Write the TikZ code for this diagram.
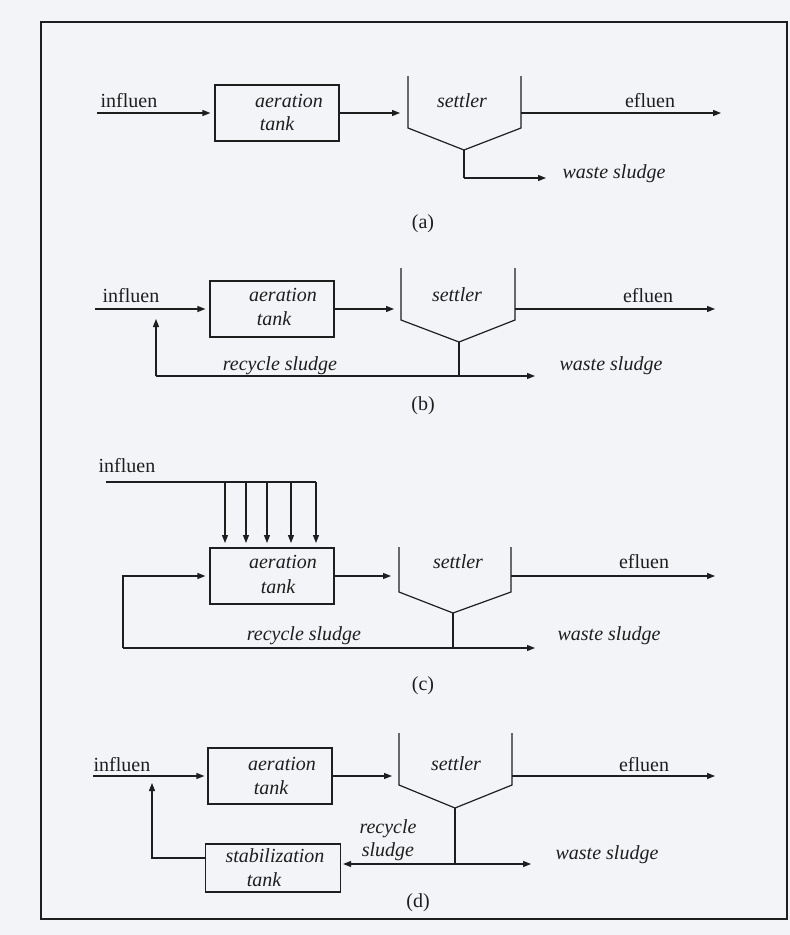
\documentclass[tikz,border=0pt]{standalone}
\usepackage{fontspec}
\setmainfont{Liberation Serif}
\usetikzlibrary{arrows.meta}
\definecolor{paper}{RGB}{242,244,247}
\definecolor{ink}{RGB}{30,30,30}
\begin{document}
\begin{tikzpicture}[x=1pt,y=-1pt,
  flow/.style={draw=ink, line width=1.2pt, -{Triangle[length=8pt,width=6pt]}},
  pipe/.style={draw=ink, line width=1.2pt},
  tankbox/.style={draw=ink, line width=1.2pt, minimum width=124pt, minimum height=56pt, inner sep=0pt},
  lbl/.style={font=\fontsize{20}{23}\selectfont, text=ink, inner sep=0pt},
  ilbl/.style={font=\fontsize{20}{23}\selectfont\itshape, text=ink, inner sep=0pt},
]
\fill[paper] (0,0) rectangle (790,935);
\useasboundingbox (0,0) rectangle (790,935);
\draw[pipe] (41,22) rectangle (787,919);

% ---------------- (a)
\node[tankbox] (A1) at (277,113) {};
\node[ilbl] (A1t1) at (289,101) {aeration};
\node[ilbl] (A1t2) at (277,124) {tank};
\coordinate (I1) at (97,113);
\node[lbl] (I1t) at (129,101) {influen};
\draw[flow, shorten >=4pt] (I1) -- (A1.west);
\coordinate (S1a) at (408,76);
\coordinate (S1b) at (408,128);
\coordinate (S1v) at (464,150);
\coordinate (S1c) at (521,128);
\coordinate (S1d) at (521,76);
\draw[pipe] (S1a) -- (S1b) -- (S1v) -- (S1c) -- (S1d);
\node[ilbl] (S1t) at (462,101) {settler};
\coordinate (S1in) at (408,113);
\coordinate (S1out) at (521,113);
\draw[flow, shorten >=8pt] (A1.east) -- (S1in);
\coordinate (E1) at (721,113);
\draw[flow] (S1out) -- (E1);
\node[lbl] (E1t) at (650,101) {efluen};
\coordinate (W1) at (464,178);
\coordinate (W1e) at (546,178);
\draw[pipe] (S1v) -- (W1);
\draw[flow] (W1) -- (W1e);
\node[ilbl] (W1t) at (614,174) {waste sludge};
\node[lbl] (La) at (423,224) {(a)};

% ---------------- (b)
\node[tankbox] (A2) at (272,309) {};
\node[ilbl] (A2t1) at (283,295) {aeration};
\node[ilbl] (A2t2) at (274,319) {tank};
\coordinate (I2) at (95,309);
\node[lbl] (I2t) at (131,296) {influen};
\draw[flow, shorten >=4pt] (I2) -- (A2.west);
\coordinate (S2a) at (401,268);
\coordinate (S2b) at (401,320);
\coordinate (S2v) at (459,342);
\coordinate (S2c) at (515,320);
\coordinate (S2d) at (515,268);
\draw[pipe] (S2a) -- (S2b) -- (S2v) -- (S2c) -- (S2d);
\node[ilbl] (S2t) at (457,295) {settler};
\coordinate (S2in) at (401,309);
\coordinate (S2out) at (515,309);
\draw[flow, shorten >=7pt] (A2.east) -- (S2in);
\coordinate (E2) at (715,309);
\draw[flow] (S2out) -- (E2);
\node[lbl] (E2t) at (648,296) {efluen};
\coordinate (R2a) at (156,376);
\coordinate (R2p) at (459,376);
\coordinate (R2b) at (535,376);
\coordinate (J2) at (156,309);
\draw[pipe] (S2v) -- (R2p);
\draw[flow] (R2a) -- (R2b);
\draw[flow, shorten >=10pt] (R2a) -- (J2);
\node[ilbl] (R2t) at (280,366) {recycle sludge};
\node[ilbl] (W2t) at (611,366) {waste sludge};
\node[lbl] (Lb) at (423,406) {(b)};

% ---------------- (c)
\node[tankbox] (A3) at (272,576) {};
\node[ilbl] (A3t1) at (283,562) {aeration};
\node[ilbl] (A3t2) at (278,587) {tank};
\node[lbl] (I3t) at (127,466) {influen};
\coordinate (I3) at (106,482);
\coordinate (I3e) at (316,482);
\draw[pipe] (I3) -- (I3e);
\foreach \xx in {225,246,267,291,316} {
  \draw[flow, shorten >=5pt] (\xx,482) -- (\xx,548);
}
\coordinate (S3a) at (399,547);
\coordinate (S3b) at (399,592);
\coordinate (S3v) at (453,613);
\coordinate (S3c) at (511,592);
\coordinate (S3d) at (511,547);
\draw[pipe] (S3a) -- (S3b) -- (S3v) -- (S3c) -- (S3d);
\node[ilbl] (S3t) at (458,562) {settler};
\coordinate (S3in) at (399,576);
\coordinate (S3out) at (511,576);
\draw[flow, shorten >=8pt] (A3.east) -- (S3in);
\coordinate (E3) at (715,576);
\draw[flow] (S3out) -- (E3);
\node[lbl] (E3t) at (644,562) {efluen};
\coordinate (R3a) at (123,648);
\coordinate (R3t) at (123,576);
\coordinate (R3p) at (453,648);
\coordinate (R3b) at (535,648);
\draw[pipe] (S3v) -- (R3p);
\draw[flow] (R3a) -- (R3b);
\draw[flow, shorten >=4pt] (R3a) -- (R3t) -- (A3.west);
\node[ilbl] (R3tx) at (304,636) {recycle sludge};
\node[ilbl] (W3t) at (609,636) {waste sludge};
\node[lbl] (Lc) at (423,686) {(c)};

% ---------------- (d)
\node[tankbox] (A4) at (270,776) {};
\node[ilbl] (A4t1) at (282,764) {aeration};
\node[ilbl] (A4t2) at (271,788) {tank};
\coordinate (I4) at (93,776);
\node[lbl] (I4t) at (122,765) {influen};
\draw[flow, shorten >=3pt] (I4) -- (A4.west);
\coordinate (S4a) at (399,733);
\coordinate (S4b) at (399,785);
\coordinate (S4v) at (455,808);
\coordinate (S4c) at (512,785);
\coordinate (S4d) at (512,733);
\draw[pipe] (S4a) -- (S4b) -- (S4v) -- (S4c) -- (S4d);
\node[ilbl] (S4t) at (456,764) {settler};
\coordinate (S4in) at (399,776);
\coordinate (S4out) at (512,776);
\draw[flow, shorten >=7pt] (A4.east) -- (S4in);
\coordinate (E4) at (715,776);
\draw[flow] (S4out) -- (E4);
\node[lbl] (E4t) at (644,765) {efluen};
\node[tankbox, minimum width=135pt, minimum height=48pt] (T4) at (273,868) {};
\node[ilbl] (T4t1) at (275,856) {stabilization};
\node[ilbl] (T4t2) at (264,880) {tank};
\coordinate (P4) at (455,864);
\coordinate (W4e) at (531,864);
\draw[pipe] (S4v) -- (P4);
\draw[flow, shorten >=2pt] (P4) -- (T4.east |- P4);
\draw[flow] (P4) -- (W4e);
\coordinate (L4) at (206,858);
\coordinate (J4) at (152,776);
\draw[flow, shorten >=7pt] (L4) -| (J4);
\node[ilbl] (R4t1) at (388,829) {recycle};
\node[ilbl] (R4t2) at (388,852) {sludge};
\node[ilbl] (W4t) at (607,855) {waste sludge};
\node[lbl] (Ld) at (418,903) {(d)};
\end{tikzpicture}
\end{document}
